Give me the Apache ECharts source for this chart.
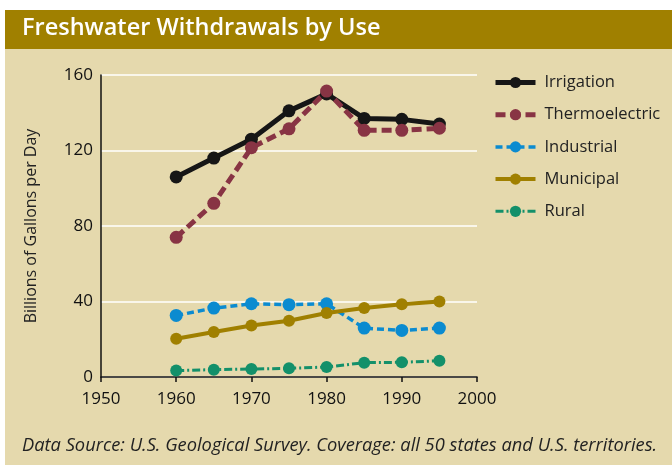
<!DOCTYPE html>
<html><head><meta charset="utf-8">
<script src="https://cdn.jsdelivr.net/npm/echarts@6/dist/echarts.min.js"></script>
<style>html,body{margin:0;padding:0;background:#fff}#c{width:672px;height:465px}</style>
</head><body><div id="c"></div>
<script>
const years = [1960, 1965, 1970, 1975, 1980, 1985, 1990, 1995];
const irrigation = [106, 116, 126, 141, 150, 137, 136.5, 134];
const thermoelectric = [74, 92, 121.5, 131.5, 151.5, 130.7, 130.7, 131.8];
const industrial = [32.6, 36.5, 38.8, 38.3, 38.8, 25.9, 24.7, 25.9];
const municipal = [20.3, 23.8, 27.3, 29.8, 33.9, 36.5, 38.6, 40.0];
const rural = [3.4, 3.9, 4.2, 4.6, 5.3, 7.6, 7.8, 8.6];
const yTicks = [0, 40, 80, 120, 160];
const xTicks = [1950, 1960, 1970, 1980, 1990, 2000];

const FONT = '"Open Sans", "Noto Sans", sans-serif';
function pairs(v){ return years.map((y,i)=>[y, v[i]]); }
const styles = {
  Irrigation:{color:'#161616', width:5, type:'solid', size:13},
  Thermoelectric:{color:'#883444', width:5, type:[10,5], size:13},
  Industrial:{color:'#0b8bd0', width:3.5, type:[7,4], size:13},
  Municipal:{color:'#a08000', width:4, type:'solid', size:12},
  Rural:{color:'#13906a', width:3, type:[8,3,2,3], size:12}
};
function mk(name, data){
  const s = styles[name];
  return {name, type:'line', data:pairs(data), symbol:'circle', symbolSize:s.size,
    itemStyle:{color:s.color}, lineStyle:{color:s.color, width:s.width, type:s.type}, z: 3};
}
const chart = echarts.init(document.getElementById('c'));
chart.setOption({
  backgroundColor:'#fff',
  animation:false,
  graphic:[
    {type:'rect', shape:{x:5,y:10,width:667,height:455}, style:{fill:'#e5d9ad'}, z:-10},
    {type:'rect', shape:{x:5,y:10,width:667,height:39}, style:{fill:'#a08000'}, z:-9},
    {type:'text', left:22, top:16, style:{text:'Freshwater Withdrawals by Use', fill:'#fff', font:'600 23.5px '+FONT}},
    {type:'text', left:22, top:437, style:{text:'Data Source: U.S. Geological Survey. Coverage: all 50 states and U.S. territories.', fill:'#222', font:'italic 18.3px '+FONT}}
  ],
  grid:{left:101, right:195, top:75, bottom:88},
  xAxis:{type:'value', min:1950, max:2000, interval:10,
    axisLine:{lineStyle:{color:'#111', width:1.5}},
    axisTick:{show:true, inside:false, length:5, lineStyle:{color:'#111', width:1.5}},
    axisLabel:{color:'#111', fontSize:17, fontFamily:FONT, margin:14, formatter:v=>String(v)},
    splitLine:{show:false}},
  yAxis:{type:'value', min:0, max:160, interval:40,
    name:'Billions of Gallons per Day', nameLocation:'middle', nameGap:62, nameRotate:90,
    nameTextStyle:{color:'#222', fontSize:16, fontFamily:FONT},
    axisLine:{show:true, lineStyle:{color:'#111', width:1.5}},
    axisTick:{show:false},
    axisLabel:{color:'#111', fontSize:17, fontFamily:FONT, margin:8},
    splitLine:{show:true, lineStyle:{color:'#fff', width:1.5}}},
  legend:{orient:'vertical', left:488, top:69, itemWidth:40, itemHeight:14, itemGap:15.2,
    textStyle:{color:'#222', fontSize:16.5, fontFamily:FONT, padding:[0,0,0,4]},
    data:Object.keys(styles).map(n=>({name:n, lineStyle:{width:styles[n].width, type:styles[n].type, color:styles[n].color}}))},
  series:[
    mk('Irrigation', irrigation),
    mk('Thermoelectric', thermoelectric),
    mk('Industrial', industrial),
    mk('Municipal', municipal),
    mk('Rural', rural)
  ]
});
</script></body></html>
